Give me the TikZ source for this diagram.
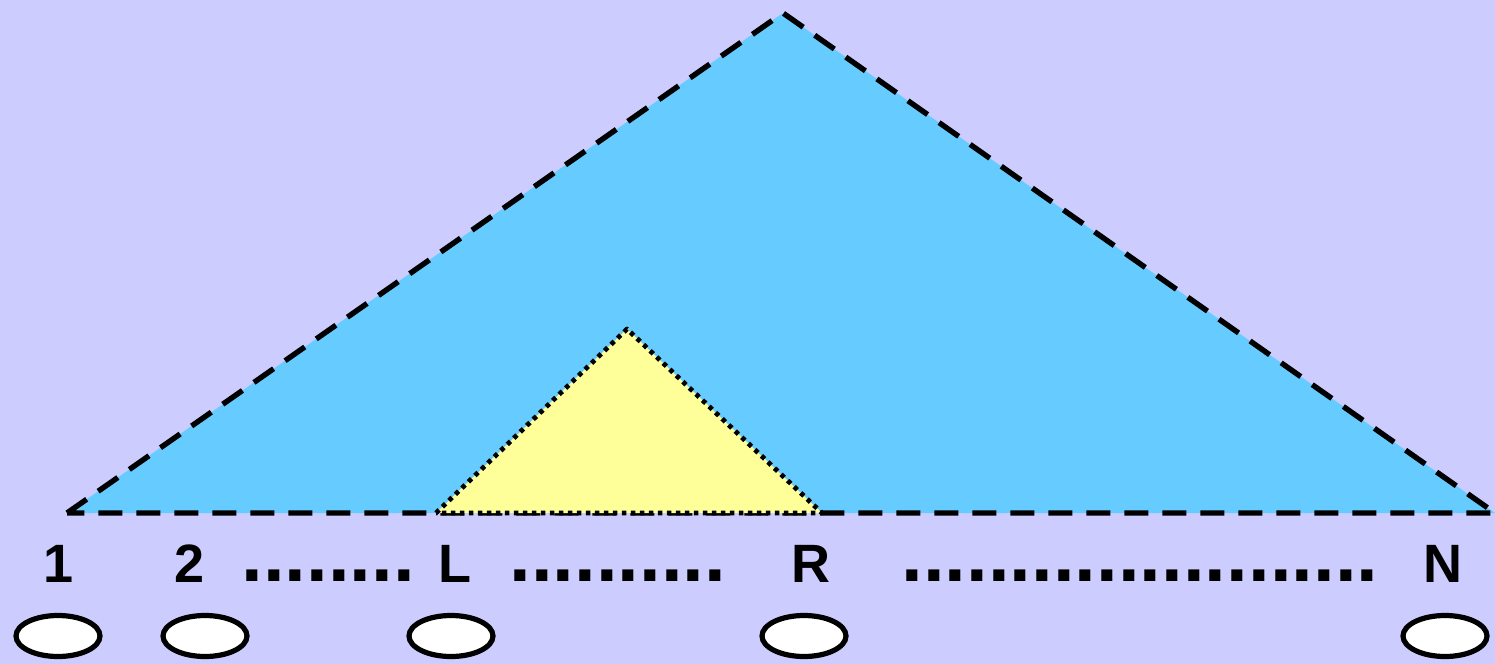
\documentclass[tikz,border=0pt]{standalone}
\usepackage{fontspec}
\newfontfamily\arialb{Liberation Sans}
\usetikzlibrary{shapes.geometric}
\definecolor{bgcol}{HTML}{CCCCFF}
\definecolor{bluefill}{HTML}{66CCFF}
\definecolor{yelfill}{HTML}{FFFF99}
\tikzset{
  bigtri/.style={fill=bluefill, draw=black, line width=2.7pt, dash pattern=on 12pt off 7pt, line join=miter},
  smalltri/.style={fill=yelfill, draw=black, line width=2.4pt, dash pattern=on 2.2pt off 2.3pt, line join=round},
  lbl/.style={font=\arialb\bfseries\fontsize{27pt}{30pt}\selectfont, inner sep=0pt, anchor=base},
  dots/.style={font=\arialb\bfseries\fontsize{39pt}{44pt}\selectfont, inner sep=0pt, anchor=base west},
  leaf/.style={ellipse, draw=black, fill=white, line width=2.6pt, minimum width=42pt, minimum height=20.5pt, inner sep=0pt}
}
\begin{document}
\begin{tikzpicture}[x=0.5pt,y=-0.5pt]
\fill[bgcol] (0,0) rectangle (1495,664);
\useasboundingbox (0,0) rectangle (1495,664);
% big triangle
\coordinate (bl) at (67,513);
\coordinate (br) at (1495,513);
\coordinate (bt) at (783,13);
\draw[bigtri] (bl) -- (bt) -- (br) -- cycle;
% small triangle
\coordinate (yl) at (436,513);
\coordinate (yr) at (822,513);
\coordinate (yt) at (627,329);
\draw[smalltri] (yl) -- (yt) -- (yr) -- cycle;
% labels
\node[lbl] (l1) at (59,582) {1};
\node[lbl] (l2) at (190,582) {2};
\node[lbl] (lL) at (455,582) {L};
\node[lbl] (lR) at (811,582) {R};
\node[lbl] (lN) at (1443,582) {N};
\node[dots] (d1) at (241,581) {........};
\node[dots] (d2) at (509,581) {..........};
\node[dots] (d3) at (901,581) {......................};
% leaves
\node[leaf] (e1) at (58,636) {};
\node[leaf] (e2) at (205,636) {};
\node[leaf] (eL) at (451,636) {};
\node[leaf] (eR) at (804,636) {};
\node[leaf] (eN) at (1445,636) {};
\end{tikzpicture}
\end{document}
